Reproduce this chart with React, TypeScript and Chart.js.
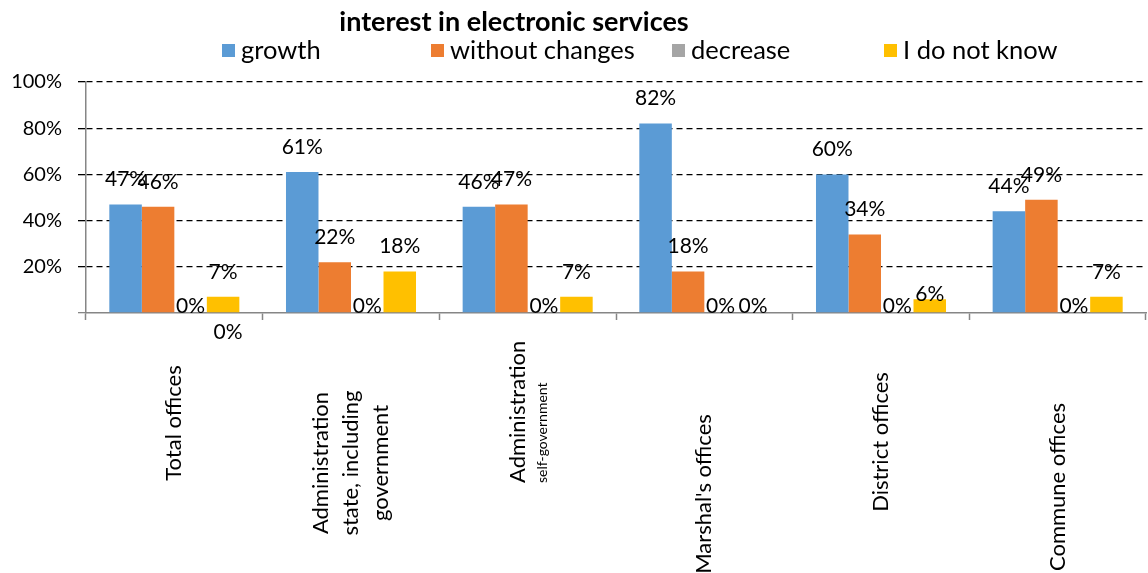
import React, { useEffect, useRef } from 'react';
import { Chart, registerables } from 'chart.js';

Chart.register(...registerables);

const FONT = 'Lato, "Liberation Sans", sans-serif';

const chartTitle = 'interest in electronic services';
const seriesNames = ['growth', 'without changes', 'decrease', 'I do not know'];
const seriesColors = ['#5B9BD5', '#ED7D31', '#A5A5A5', '#FFC000'];

const categories = [
  ['Total offices'],
  ['Administration', 'state, including', 'government'],
  ['Administration', 'self-government'],
  ["Marshal's offices"],
  ['District offices'],
  ['Commune offices'],
];

const growth = [47, 61, 46, 82, 60, 44];
const withoutChanges = [46, 22, 47, 18, 34, 49];
const decrease = [0, 0, 0, 0, 0, 0];
const doNotKnow = [7, 18, 7, 0, 6, 7];

const yTickValues = [0, 20, 40, 60, 80, 100];
const strayLabel = '0%';

// style / layout settings (not data)
const legendBoxX = [222, 431, 672, 884];
const xLabelAnchorY = [423, 463, 483, 494, 442, 487];
const xLabelAlign = ['center', 'center', 'left', 'center', 'center', 'center'];

const overlayPlugin = {
  id: 'overlay',
  afterDatasetsDraw(chart: any) {
    const ctx = chart.ctx;
    const xs = chart.scales.x;
    const ys = chart.scales.y;
    const base = ys.getPixelForValue(0);
    ctx.save();
    ctx.fillStyle = '#000';
    ctx.textBaseline = 'middle';

    // value labels
    ctx.font = `21px ${FONT}`;
    ctx.textAlign = 'center';
    chart.data.datasets.forEach((ds: any, di: number) => {
      const meta = chart.getDatasetMeta(di);
      meta.data.forEach((bar: any, i: number) => {
        const v = ds.data[i];
        let y = v === 0 ? base - 7 : bar.y - 25;
        if (di === 3 && i === 4) y = bar.y - 5;
        ctx.fillText(v + '%', bar.x, y);
      });
    });
    const yb = chart.getDatasetMeta(3).data[0];
    ctx.fillText(strayLabel, yb.x + 5, base + 19);

    // category labels (rotated)
    categories.forEach((lines, i) => {
      const cx = xs.getPixelForValue(i);
      const sizes = lines.map((_, j) => (i === 2 && j === 1 ? 14 : 22));
      const heights = sizes.map((s) => s * 1.35);
      const total = heights.reduce((a, b) => a + b, 0);
      ctx.save();
      ctx.translate(cx, xLabelAnchorY[i]);
      ctx.rotate(-Math.PI / 2);
      ctx.textAlign = xLabelAlign[i] as CanvasTextAlign;
      let off = -total / 2;
      lines.forEach((line, j) => {
        ctx.font = `${sizes[j]}px ${FONT}`;
        ctx.fillText(line, 0, off + heights[j] / 2);
        off += heights[j];
      });
      ctx.restore();
    });

    // title
    ctx.textAlign = 'center';
    ctx.font = `bold 27px ${FONT}`;
    ctx.fillText(chartTitle, 514, 22);

    // legend
    ctx.font = `25.5px ${FONT}`;
    ctx.textAlign = 'left';
    seriesNames.forEach((name, i) => {
      const x = legendBoxX[i];
      ctx.fillStyle = seriesColors[i];
      ctx.fillRect(x, 44, 13, 13);
      ctx.fillStyle = '#000';
      ctx.fillText(name, x + 19, 51);
    });
    ctx.restore();
  },
};

export default function App() {
  const ref = useRef<HTMLCanvasElement | null>(null);
  useEffect(() => {
    if (!ref.current) return;
    const series = [growth, withoutChanges, decrease, doNotKnow];
    const chart = new Chart(ref.current, {
      type: 'bar',
      data: {
        labels: categories.map((c) => c.join(' ')),
        datasets: series.map((d, i) => ({
          label: seriesNames[i],
          data: d,
          backgroundColor: seriesColors[i],
          borderWidth: 0,
          categoryPercentage: 0.736,
          barPercentage: 1,
        })),
      },
      options: {
        animation: false,
        responsive: false,
        maintainAspectRatio: false,
        devicePixelRatio: 1,
        layout: { padding: { top: 82, right: 2, left: 0, bottom: 0 } },
        plugins: {
          legend: { display: false },
          title: { display: false },
          tooltip: { enabled: false },
        },
        scales: {
          x: {
            grid: {
              offset: true,
              drawOnChartArea: false,
              drawTicks: true,
              tickLength: 7,
              tickColor: '#868686',
              tickWidth: 1.5,
            },
            border: { color: '#868686', width: 1.5 },
            ticks: { display: false },
            afterFit: (s: any) => {
              s.height = 260;
            },
          },
          y: {
            min: 0,
            max: 100,
            afterBuildTicks: (s: any) => {
              s.ticks = yTickValues.map((v) => ({ value: v }));
            },
            ticks: {
              callback: (v: any) => (v === 0 ? '' : v + '%'),
              font: { family: FONT, size: 20 },
              color: '#000',
              padding: 16,
            },
            grid: {
              color: (c: any) => (c.tick && c.tick.value === 0 ? 'rgba(0,0,0,0)' : '#000'),
              lineWidth: 1.3,
              tickLength: 8,
              tickColor: (c: any) => (c.tick && c.tick.value === 0 ? '#868686' : '#000'),
              tickWidth: 1.3,
            },
            border: { dash: [6, 4], color: '#868686', width: 1.5 },
            afterFit: (s: any) => {
              s.width = 86;
            },
          },
        },
      },
      plugins: [overlayPlugin],
    } as any);
    return () => chart.destroy();
  }, []);
  return (
    <div style={{ position: 'fixed', left: 0, top: 0, width: 1148, height: 573, background: '#fff' }}>
      <canvas ref={ref} width={1148} height={573} style={{ width: 1148, height: 573, display: 'block' }} />
    </div>
  );
}
